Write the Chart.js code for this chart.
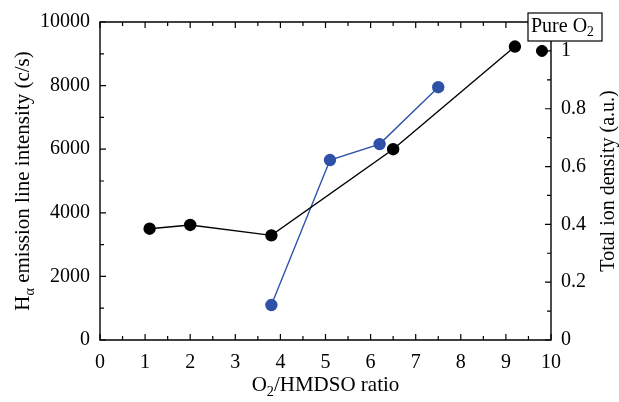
<!DOCTYPE html>
<html><head><meta charset="utf-8">
<script src="https://cdn.jsdelivr.net/npm/chart.js@4.4.0/dist/chart.umd.min.js"></script>
<style>html,body{margin:0;padding:0;background:#fff}#wrap{width:619px;height:402px}</style>
</head><body><div id="wrap"><canvas id="c" width="619" height="402"></canvas></div>
<script>
const ionRatio = [1.1, 2.0, 3.8, 6.5, 9.2];
const ionDensity = [0.385, 0.398, 0.362, 0.66, 1.015];
const pureO2Ratio = [9.8];
const pureO2Density = [1.0];
const haRatio = [3.8, 5.1, 6.2, 7.5];
const haIntensity = [1100, 5660, 6160, 7950];
const xTicks = [0,1,2,3,4,5,6,7,8,9,10];
const leftTicks = [0,2000,4000,6000,8000,10000];
const rightTicks = [0,0.2,0.4,0.6,0.8,1];

const FONT = '"Liberation Serif", "DejaVu Serif", serif';
const BLUE = '#2f52a8';

function pts(xs, ys){ return xs.map((x,i)=>({x:x,y:ys[i]})); }

function drawSub(ctx, parts, x, y, size, align){
  let w = 0;
  const widths = parts.map(p=>{ctx.font = (p[1]? size*0.68 : size)+'px '+FONT; const m=ctx.measureText(p[0]).width; w+=m; return m;});
  let cx = align==='center' ? x - w/2 : x;
  parts.forEach((p,i)=>{
    ctx.font = (p[1]? size*0.68 : size)+'px '+FONT;
    ctx.fillText(p[0], cx, p[1]? y + size*0.22 : y);
    cx += widths[i];
  });
}

const decor = {
  id:'decor',
  afterDraw(chart){
    const ctx = chart.ctx, a = chart.chartArea;
    const xs = chart.scales.x, yl = chart.scales.y, yr = chart.scales.y2;
    ctx.save();
    ctx.strokeStyle = '#000'; ctx.lineWidth = 1.4;
    ctx.beginPath();
    ctx.rect(a.left, a.top, a.right-a.left, a.bottom-a.top);
    ctx.stroke();
    ctx.lineWidth = 1.2;
    ctx.beginPath();
    for(let v=0; v<=10.001; v+=0.5){
      const px = xs.getPixelForValue(v);
      const L = Math.abs(v-Math.round(v))<1e-6 ? 6 : 4;
      ctx.moveTo(px, a.bottom); ctx.lineTo(px, a.bottom-L);
      ctx.moveTo(px, a.top); ctx.lineTo(px, a.top+L);
    }
    for(let v=0; v<=10000; v+=1000){
      const py = yl.getPixelForValue(v);
      const L = v%2000===0 ? 6 : 4;
      ctx.moveTo(a.left, py); ctx.lineTo(a.left+L, py);
    }
    for(let i=0; i<=11; i++){
      const v = i/10;
      const py = yr.getPixelForValue(v);
      const L = i%2===0 ? 6 : 4;
      ctx.moveTo(a.right, py); ctx.lineTo(a.right-L, py);
    }
    ctx.stroke();
    // Pure O2 box
    const bx = a.right-23, by = 13, bw = 74, bh = 28;
    ctx.fillStyle = '#fff';
    ctx.fillRect(bx, by, bw, bh);
    ctx.lineWidth = 1.2;
    ctx.strokeRect(bx, by, bw, bh);
    ctx.fillStyle = '#000';
    ctx.textBaseline = 'alphabetic';
    drawSub(ctx, [['Pure O',false],['2',true]], bx+3, by+19, 20, 'left');
    // axis titles
    drawSub(ctx, [['O',false],['2',true],['/HMDSO ratio',false]], (a.left+a.right)/2, 391, 21, 'center');
    ctx.save();
    ctx.translate(29, (a.top+a.bottom)/2);
    ctx.rotate(-Math.PI/2);
    drawSub(ctx, [['H',false],['\u03B1',true],[' emission line intensity (c/s)',false]], 0, 0, 21, 'center');
    ctx.restore();
    ctx.save();
    ctx.translate(614, (a.top+a.bottom)/2);
    ctx.rotate(-Math.PI/2);
    drawSub(ctx, [['Total ion density (a.u.)',false]], 0, 0, 20, 'center');
    ctx.restore();
    ctx.restore();
  }
};

new Chart(document.getElementById('c'), {
  type:'scatter',
  data:{datasets:[
    {label:'Total ion density', data:pts(ionRatio, ionDensity), yAxisID:'y2', showLine:true,
     borderColor:'#000', backgroundColor:'#000', borderWidth:1.4, pointRadius:5.5, pointHoverRadius:5.5},
    {label:'Pure O2', data:pts(pureO2Ratio, pureO2Density), yAxisID:'y2', showLine:false,
     borderColor:'#000', backgroundColor:'#000', pointRadius:5.5},
    {label:'H alpha', data:pts(haRatio, haIntensity), yAxisID:'y', showLine:true,
     borderColor:BLUE, backgroundColor:BLUE, borderWidth:1.4, pointRadius:5.5, pointHoverRadius:5.5}
  ]},
  options:{
    responsive:false, animation:false, devicePixelRatio:1,
    layout:{padding:{top:22,left:0,right:0,bottom:0}},
    plugins:{legend:{display:false}, tooltip:{enabled:false}},
    scales:{
      x:{type:'linear', min:0, max:10, position:'bottom',
        afterBuildTicks:s=>{s.ticks = xTicks.map(v=>({value:v}));},
        afterFit:s=>{s.height = 62;},
        grid:{display:false, drawTicks:false}, border:{display:false},
        ticks:{color:'#000', font:{family:FONT, size:20}, padding:11, maxRotation:0, callback:v=>String(v)}},
      y:{type:'linear', min:0, max:10000, position:'left',
        afterBuildTicks:s=>{s.ticks = leftTicks.map(v=>({value:v}));},
        afterFit:s=>{s.width = 100;},
        grid:{display:false, drawTicks:false}, border:{display:false},
        ticks:{color:'#000', font:{family:FONT, size:20}, padding:10, callback:v=>String(v)}},
      y2:{type:'linear', min:0, max:1.1, position:'right',
        afterBuildTicks:s=>{s.ticks = rightTicks.map(v=>({value:v}));},
        afterFit:s=>{s.width = 68;},
        grid:{display:false, drawTicks:false}, border:{display:false},
        ticks:{color:'#000', font:{family:FONT, size:20}, padding:10, callback:v=>String(Math.round(v*10)/10)}}
    }
  },
  plugins:[decor]
});
</script></body></html>
